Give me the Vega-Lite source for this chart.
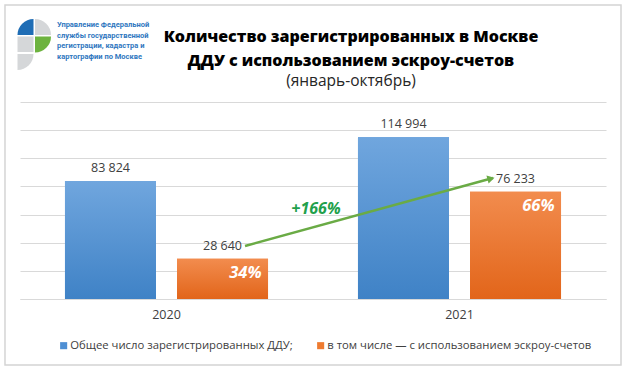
{
  "$schema": "https://vega.github.io/schema/vega-lite/v6.json",
  "width": 586,
  "height": 197,
  "autosize": {"type": "none"},
  "padding": {"left": 20, "top": 102, "right": 22, "bottom": 72},
  "background": "white",
  "config": {
    "view": {"stroke": null},
    "font": "Open Sans",
    "locale": {"number": {"decimal": ",", "thousands": " ", "grouping": [3], "currency": ["", ""]}}
  },
  "title": {
    "text": ["Количество зарегистрированных в Москве", "ДДУ с использованием эскроу-счетов"],
    "subtitle": "(январь-октябрь)",
    "anchor": "middle",
    "dx": 38,
    "offset": -85,
    "font": "Open Sans",
    "fontSize": 16,
    "fontWeight": 800,
    "color": "#000000",
    "lineHeight": 24,
    "subtitleFont": "Open Sans",
    "subtitleFontSize": 15.5,
    "subtitleColor": "#262626",
    "subtitlePadding": 5,
    "subtitleLineHeight": 20
  },
  "datasets": {
    "ddu": [
      {"year": "2020", "series": "Общее число зарегистрированных ДДУ;", "value": 83824},
      {"year": "2020", "series": "в том числе — с использованием эскроу-счетов", "value": 28640, "pct": 0.34},
      {"year": "2021", "series": "Общее число зарегистрированных ДДУ;", "value": 114994},
      {"year": "2021", "series": "в том числе — с использованием эскроу-счетов", "value": 76233, "pct": 0.66}
    ],
    "arrowLine": [
      {"ax": 2020.268, "ay": 37666},
      {"ax": 2021.114, "ay": 85960}
    ],
    "arrowHead": [
      {"ax": 2021.1075, "ay": 85565}
    ],
    "growth": [
      {"ax": 2020.51, "ay": 63960, "text": "+166%"}
    ],
    "frame": [
      {"x1": -0.0256, "x2": 1.0256, "y1": 1.4924, "y2": -0.335}
    ],
    "logoArcs": [
      {"part": "blue", "cx": 0.02304, "cy": 1.3401, "a1": 270, "a2": 360},
      {"part": "gray", "cx": 0.0256, "cy": 1.3401, "a1": 0, "a2": 90},
      {"part": "green", "cx": 0.0256, "cy": 1.3325, "a1": 90, "a2": 180},
      {"part": "gray", "cx": -0.00427, "cy": 1.2437, "a1": 90, "a2": 180}
    ],
    "logoRect": [
      {"x1": -0.00427, "x2": 0.02304, "y1": 1.3325, "y2": 1.2538}
    ],
    "logoText": [
      {"line": "Управление Федеральной", "tx": 0.0631, "ty": 1.391},
      {"line": "службы государственной", "tx": 0.0631, "ty": 1.335},
      {"line": "регистрации, кадастра и", "tx": 0.0631, "ty": 1.282},
      {"line": "картографии по Москве", "tx": 0.0631, "ty": 1.228}
    ]
  },
  "resolve": {"scale": {"x": "independent", "y": "independent"}},
  "layer": [
    {
      "layer": [
        {
          "data": {"name": "frame"},
          "mark": {"type": "rect", "fill": null, "stroke": "#d4d4d4", "strokeWidth": 1.5},
          "encoding": {
            "x": {"field": "x1", "type": "quantitative", "scale": {"domain": [0, 1], "nice": false, "zero": false}, "axis": null},
            "x2": {"field": "x2"},
            "y": {"field": "y1", "type": "quantitative", "scale": {"domain": [0, 1], "nice": false, "zero": false}, "axis": null},
            "y2": {"field": "y2"}
          }
        },
        {
          "data": {"name": "logoArcs"},
          "mark": {"type": "arc", "radius": 16},
          "encoding": {
            "x": {"field": "cx", "type": "quantitative"},
            "y": {"field": "cy", "type": "quantitative"},
            "theta": {"field": "a1", "type": "quantitative", "scale": {"domain": [0, 360], "range": [0, 6.283185307]}},
            "theta2": {"field": "a2"},
            "fill": {"field": "part", "type": "nominal", "scale": {"domain": ["blue", "gray", "green"], "range": ["#1f6db5", "#d5d7d9", "#6db33f"]}, "legend": null}
          }
        },
        {
          "data": {"name": "logoRect"},
          "mark": {"type": "rect", "color": "#d5d7d9"},
          "encoding": {
            "x": {"field": "x1", "type": "quantitative"},
            "x2": {"field": "x2"},
            "y": {"field": "y1", "type": "quantitative"},
            "y2": {"field": "y2"}
          }
        },
        {
          "data": {"name": "logoText"},
          "mark": {"type": "text", "align": "left", "baseline": "middle", "font": "Roboto", "fontSize": 7.5, "fontWeight": "bold", "color": "#2f77c0"},
          "encoding": {
            "x": {"field": "tx", "type": "quantitative"},
            "y": {"field": "ty", "type": "quantitative"},
            "text": {"field": "line"}
          }
        }
      ]
    },
    {
      "data": {"name": "ddu"},
      "encoding": {
        "x": {
          "field": "year", "type": "nominal",
          "scale": {"paddingInner": 0.307, "paddingOuter": 0.1535},
          "axis": {"orient": "bottom", "title": null, "labelAngle": 0, "labelFontSize": 12.5, "labelColor": "#404040", "labelPadding": 9, "ticks": false, "domainColor": "#d9d9d9", "grid": false}
        },
        "xOffset": {
          "field": "series", "type": "nominal",
          "sort": ["Общее число зарегистрированных ДДУ;", "в том числе — с использованием эскроу-счетов"],
          "scale": {"paddingInner": 0.1875, "paddingOuter": 0}
        },
        "y": {
          "field": "value", "type": "quantitative",
          "scale": {"domain": [0, 140000], "nice": false},
          "axis": {"orient": "left", "title": null, "labels": false, "ticks": false, "domain": false, "grid": true, "gridColor": "#d9d9d9", "values": [0, 20000, 40000, 60000, 80000, 100000, 120000, 140000]}
        }
      },
      "layer": [
        {
          "mark": {"type": "bar"},
          "encoding": {
            "color": {
              "field": "series", "type": "nominal",
              "scale": {"domain": ["Общее число зарегистрированных ДДУ;", "в том числе — с использованием эскроу-счетов"], "range": ["#4e8fd4", "#ee7b30"]},
              "legend": {"title": null, "orient": "none", "legendX": 38, "legendY": 238, "direction": "horizontal", "symbolType": "square", "symbolSize": 50, "symbolStrokeWidth": 0, "labelFontSize": 11.3, "labelColor": "#404040", "labelLimit": 400, "columnPadding": 22, "labelOffset": 1, "padding": 0}
            }
          }
        },
        {
          "transform": [{"filter": "datum.series === 'Общее число зарегистрированных ДДУ;'"}],
          "mark": {"type": "bar", "color": {"gradient": "linear", "x1": 0, "y1": 0, "x2": 0, "y2": 1, "stops": [{"offset": 0, "color": "#70a6de"}, {"offset": 1, "color": "#3f82c6"}]}}
        },
        {
          "transform": [{"filter": "datum.series !== 'Общее число зарегистрированных ДДУ;'"}],
          "mark": {"type": "bar", "color": {"gradient": "linear", "x1": 0, "y1": 0, "x2": 0, "y2": 1, "stops": [{"offset": 0, "color": "#f28c4e"}, {"offset": 1, "color": "#e2651a"}]}}
        },
        {
          "mark": {"type": "text", "baseline": "middle", "dy": -13, "fontSize": 12.5, "color": "#404040"},
          "encoding": {"text": {"field": "value", "type": "quantitative", "format": ",d"}}
        },
        {
          "transform": [{"filter": "isValid(datum.pct)"}],
          "mark": {"type": "text", "align": "right", "baseline": "middle", "dx": 39, "dy": 14, "fontSize": 16.5, "fontWeight": "bold", "fontStyle": "italic", "color": "white"},
          "encoding": {"text": {"field": "pct", "type": "quantitative", "format": ".0%"}}
        }
      ]
    },
    {
      "encoding": {
        "x": {"field": "ax", "type": "quantitative", "scale": {"domain": [2019.5, 2021.5], "nice": false, "zero": false}, "axis": null},
        "y": {"field": "ay", "type": "quantitative", "scale": {"domain": [0, 140000], "nice": false}, "axis": null}
      },
      "layer": [
        {
          "data": {"name": "arrowLine"},
          "mark": {"type": "line", "color": "#6aab45", "strokeWidth": 2.5},
          "encoding": {}
        },
        {
          "data": {"name": "arrowHead"},
          "mark": {"type": "point", "shape": "triangle-right", "filled": true, "size": 70, "angle": 344.7, "color": "#6aab45", "opacity": 1},
          "encoding": {}
        },
        {
          "data": {"name": "growth"},
          "mark": {"type": "text", "baseline": "middle", "fontSize": 16, "fontWeight": "bold", "fontStyle": "italic", "color": "#22a04b"},
          "encoding": {"text": {"field": "text"}}
        }
      ]
    }
  ]
}
